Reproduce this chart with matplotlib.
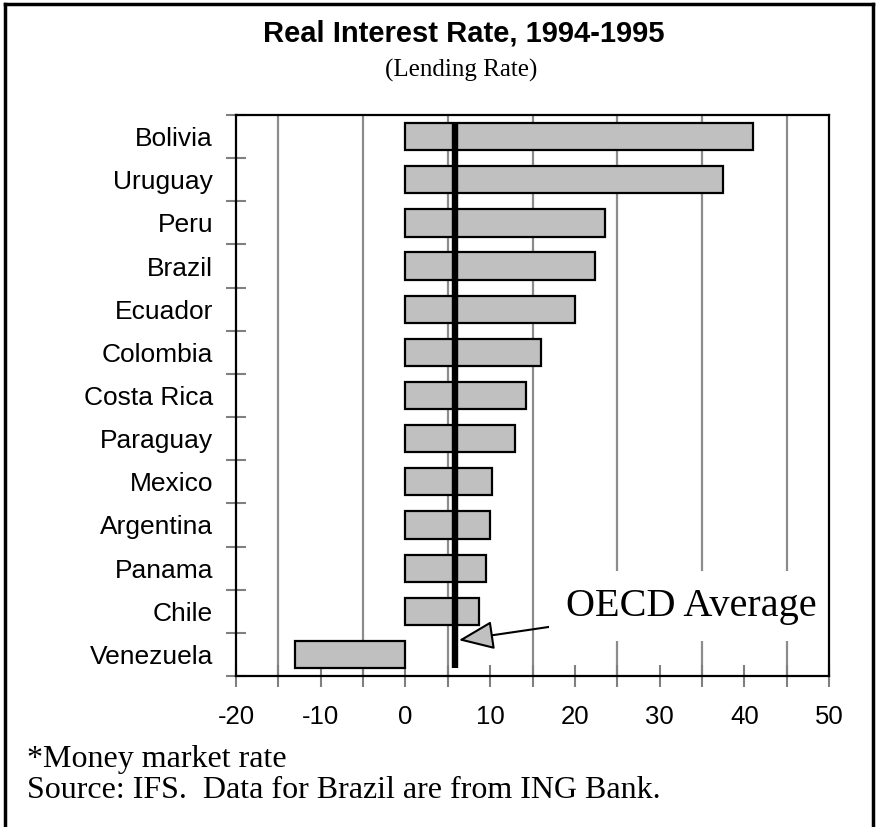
import matplotlib
matplotlib.use("Agg")
import matplotlib.pyplot as plt
from matplotlib.lines import Line2D

# data (lending rate, %)
countries = ["Bolivia", "Uruguay", "Peru", "Brazil", "Ecuador", "Colombia",
             "Costa Rica", "Paraguay", "Mexico", "Argentina", "Panama",
             "Chile", "Venezuela"]
rates = [41.0, 37.5, 23.6, 22.4, 20.0, 16.0, 14.2, 12.9, 10.2, 10.0, 9.5, 8.7, -13.0]
oecd_avg = 5.8
x_ticks = [-20, -10, 0, 10, 20, 30, 40, 50]

sans = "Liberation Sans"
serif = "Liberation Serif"

fig = plt.figure(figsize=(8.77, 8.27), dpi=100)
ax = fig.add_axes([0.2691, 0.1826, 0.6762, 0.6783])

ypos = list(range(len(countries)))
bar_h = 0.63
ax.barh(ypos, rates, height=bar_h, color="#c0c0c0", edgecolor="black",
        linewidth=1.6, zorder=1)

# OECD average line, spans the bars
ax.plot([oecd_avg, oecd_avg], [-bar_h / 2, len(countries) - 1 + bar_h / 2],
        color="black", lw=4.6, solid_capstyle="butt", zorder=1.5)

ax.set_xlim(-20, 50)
ax.set_ylim(len(countries) - 0.5, -0.5)

# x axis: ticks every 5, labels every 10
ax.set_xticks(x_ticks)
ax.set_xticks(range(-20, 51, 5), minor=True)
ax.set_xticklabels([str(v) for v in x_ticks], fontfamily=sans, fontsize=18.5)
ax.tick_params(axis="x", which="both", direction="inout", length=16,
               width=1.5, color="#808080", pad=13)
ax.grid(axis="x", which="minor", color="#8c8c8c", lw=1.6)
ax.set_axisbelow(True)

# y axis: labels at centres, ticks at boundaries
ax.set_yticks(ypos)
ax.set_yticklabels(countries, fontfamily=sans, fontsize=19)
ax.set_yticks([i - 0.5 for i in range(len(countries) + 1)], minor=True)
ax.tick_params(axis="y", which="major", length=0, pad=16.5)
ax.tick_params(axis="y", which="minor", direction="inout", length=14,
               width=1.5, color="#808080")

for s in ax.spines.values():
    s.set_linewidth(1.6)
    s.set_color("black")

ax.annotate("OECD Average", xy=(6.3, 11.67), xytext=(18.9, 10.88),
            ha="left", va="center", fontfamily=serif, fontsize=29, zorder=2,
            bbox=dict(fc="white", ec="none", pad=12),
            arrowprops=dict(arrowstyle="-|>,head_length=1.1,head_width=0.45",
                            mutation_scale=20, fc="#c0c0c0", ec="black",
                            lw=1.5, shrinkA=0, shrinkB=0))

fig.text(0.529, 1 - 33 / 827, "Real Interest Rate, 1994-1995", ha="center",
         va="center", fontfamily=sans, fontweight="bold", fontsize=21)
fig.text(0.526, 1 - 70 / 827, "(Lending Rate)", ha="center", va="center",
         fontfamily=serif, fontsize=18)
fig.text(0.031, 1 - 767 / 827, "*Money market rate", ha="left",
         va="baseline", fontfamily=serif, fontsize=23)
fig.text(0.031, 1 - 798 / 827, "Source: IFS.  Data for Brazil are from ING Bank.",
         ha="left", va="baseline", fontfamily=serif, fontsize=23)

# frame around the figure (no bottom edge)
frame = dict(color="black", lw=2.5, transform=fig.transFigure)
fig.add_artist(Line2D([0.006, 0.006], [0, 0.995], **frame))
fig.add_artist(Line2D([0.006, 0.995], [0.995, 0.995], **frame))
fig.add_artist(Line2D([0.995, 0.995], [0, 0.995], **frame))

fig.savefig("out.png", dpi=100)
